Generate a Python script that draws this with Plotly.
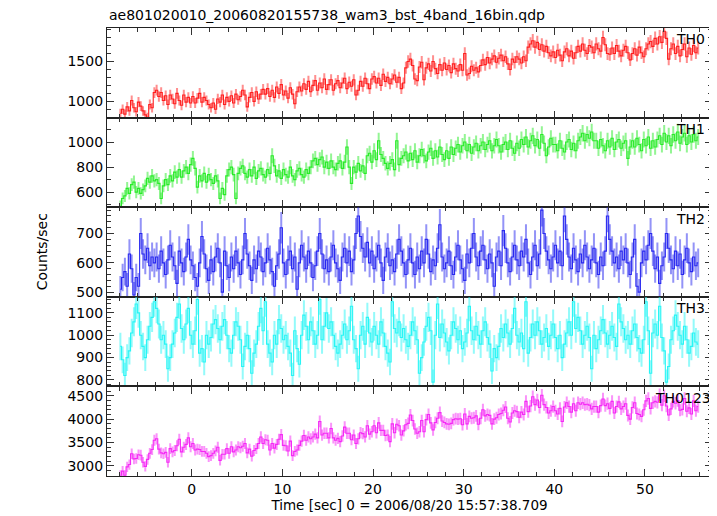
import numpy as np
import plotly.graph_objects as go
from plotly.subplots import make_subplots

# time bins: 0.25 s (16 x 1/64 s), bin centres
BIN = 0.25
t = np.arange(-7.875, 56.0, BIN)

th0 = [
    850, 900, 840, 930, 880, 1010, 920, 870, 990, 940, 880, 830, 800, 960, 920, 1110,
    1140, 1060, 1110, 1010, 1070, 960, 1080, 1030, 970, 1100, 1010, 950, 1080, 990, 1050, 980,
    1060, 980, 1040, 1100, 990, 1050, 1010, 960, 920, 980, 900, 1030, 990, 1080, 960, 1050,
    1000, 1070, 980, 1090, 1020, 1060, 1140, 1080, 930, 1050, 1110, 1000, 1120, 1030, 1090, 1150,
    1090, 1160, 1060, 1140, 1050, 1180, 1100, 1210, 1080, 1130, 1040, 1170, 1090, 970, 1120, 1180,
    1130, 1220, 1150, 1250, 1120, 1200, 1260, 1140, 1230, 1170, 1280, 1150, 1210, 1270, 1140, 1220,
    1260, 1170, 1230, 1290, 1160, 1240, 1190, 1270, 1080, 1140, 1250, 1190, 1290, 1220, 1160, 1280,
    1310, 1230, 1290, 1200, 1340, 1250, 1300, 1220, 1280, 1330, 1240, 1300, 1160, 1230, 1420, 1500,
    1530, 1450, 1280, 1260, 1430, 1490, 1270, 1420, 1470, 1380, 1500, 1410, 1350, 1460, 1390, 1480,
    1400, 1450, 1360, 1470, 1410, 1380, 1460, 1390, 1600, 1330, 1350, 1440, 1390, 1420, 1370, 1450,
    1520, 1460, 1550, 1480, 1530, 1570, 1490, 1540, 1580, 1510, 1560, 1470, 1400, 1530, 1490, 1560,
    1530, 1480, 1560, 1510, 1680, 1720, 1760, 1680, 1740, 1650, 1710, 1630, 1690, 1610, 1570, 1620,
    1550, 1640, 1580, 1510, 1620, 1660, 1570, 1630, 1540, 1610, 1690, 1630, 1720, 1640, 1600, 1700,
    1680, 1610, 1720, 1660, 1630, 1800, 1710, 1600, 1590, 1670, 1600, 1700, 1630, 1570, 1640, 1690,
    1610, 1520, 1600, 1660, 1580, 1680, 1610, 1560, 1660, 1720, 1750, 1690, 1790, 1720, 1810, 1740,
    1880, 1790, 1530, 1660, 1720, 1600, 1690, 1570, 1650, 1720, 1560, 1670, 1590, 1700, 1610, 1670,
]

th1 = [
    490, 550, 570, 630, 590, 660, 680, 600, 630, 590, 620, 650, 710, 680, 730, 690,
    700, 670, 550, 650, 700, 660, 730, 690, 760, 720, 780, 720, 770, 800, 750, 820,
    870, 790, 640, 730, 690, 750, 680, 740, 700, 670, 730, 690, 550, 630, 580, 730,
    780, 800, 740, 550, 750, 790, 810, 750, 720, 780, 730, 800, 710, 770, 790, 740,
    720, 780, 750, 890, 810, 730, 770, 710, 780, 740, 720, 800, 730, 700, 770, 790,
    740, 720, 780, 750, 800, 850, 870, 820, 860, 880, 800, 840, 790, 850, 800, 780,
    830, 850, 790, 840, 960, 800, 670, 800, 760, 830, 770, 810, 750, 890, 910, 840,
    930, 860, 1010, 900, 870, 830, 790, 830, 860, 780, 1010, 820, 870, 890, 920, 850,
    910, 860, 930, 840, 890, 940, 890, 850, 920, 950, 870, 930, 880, 960, 900, 860,
    930, 870, 960, 900, 950, 980, 920, 970, 1000, 930, 980, 910, 960, 990, 930, 970,
    1000, 940, 980, 1010, 930, 970, 1020, 970, 920, 980, 1000, 940, 1010, 950, 910, 990,
    950, 1020, 980, 1040, 960, 1010, 1050, 970, 1020, 950, 1060, 990, 890, 960, 1030, 980,
    980, 930, 1010, 950, 920, 1000, 1020, 940, 990, 930, 1010, 1040, 1070, 1010, 1060, 1030,
    1080, 1010, 1010, 950, 1020, 970, 930, 1010, 960, 1030, 940, 1000, 1020, 950, 990, 1010,
    870, 960, 1010, 960, 1030, 980, 930, 1020, 970, 1040, 950, 1010, 960, 1020, 1050, 980,
    1070, 1000, 1050, 970, 1060, 1010, 1080, 990, 1040, 1070, 980, 1050, 1000, 1060, 1010, 1040,
]

th2 = [
    510, 550, 570, 520, 630, 580, 490, 550, 520, 700, 630, 610, 650, 590, 620, 600,
    620, 580, 640, 600, 560, 610, 660, 620, 590, 530, 640, 600, 570, 620, 680, 610,
    590, 550, 520, 600, 690, 630, 580, 540, 610, 570, 620, 650, 600, 500, 640, 590,
    550, 620, 580, 640, 600, 560, 610, 700, 630, 590, 540, 610, 580, 640, 620, 570,
    600, 650, 610, 570, 520, 590, 630, 720, 600, 560, 610, 640, 580, 620, 510, 600,
    660, 620, 580, 640, 600, 550, 590, 640, 700, 630, 580, 610, 570, 620, 660, 600,
    580, 540, 620, 650, 600, 640, 570, 610, 700, 760, 690, 650, 620, 670, 600, 640,
    580, 620, 660, 600, 540, 620, 650, 590, 610, 570, 630, 680, 640, 600, 560, 610,
    650, 600, 560, 620, 580, 640, 600, 680, 630, 570, 610, 590, 650, 730, 620, 580,
    600, 640, 590, 560, 620, 660, 610, 580, 540, 630, 600, 650, 700, 620, 590, 640,
    660, 610, 580, 630, 600, 520, 620, 640, 590, 710, 650, 600, 570, 620, 660, 610,
    590, 640, 620, 680, 600, 560, 620, 660, 590, 630, 780, 700, 640, 610, 580, 620,
    660, 600, 640, 590, 760, 680, 620, 580, 650, 610, 570, 630, 600, 660, 620, 580,
    610, 650, 600, 560, 620, 590, 640, 760, 680, 640, 600, 620, 580, 640, 610, 650,
    600, 560, 620, 680, 520, 500, 600, 640, 610, 660, 700, 640, 580, 620, 530, 590,
    620, 700, 650, 610, 580, 640, 590, 630, 560, 610, 650, 600, 570, 620, 590, 600,
]

th3 = [
    950, 890, 820, 900, 930, 1010, 1060, 1140, 1100, 1000, 950, 900, 980, 1040, 1080, 1150,
    1120, 1050, 980, 1000, 960, 850, 900, 960, 1010, 1080, 1140, 1030, 980, 1050, 1120, 1000,
    960, 1020, 1160, 920, 940, 880, 1000, 960, 990, 1050, 1070, 1030, 980, 1040, 1070, 1000,
    940, 920, 1000, 1060, 1040, 980, 860, 950, 1000, 940, 830, 920, 960, 1040, 1120, 1020,
    1150, 960, 920, 880, 1000, 960, 1070, 1030, 980, 1000, 950, 920, 820, 1020, 940, 870,
    1000, 1090, 1040, 980, 1060, 1020, 960, 1000, 1160, 980, 1040, 1100, 1030, 1060, 1000, 950,
    920, 960, 1000, 1050, 980, 1020, 1130, 980, 940, 850, 1000, 1040, 960, 1080, 1010, 970,
    1040, 1000, 960, 1060, 1010, 950, 920, 880, 1150, 1030, 1010, 1060, 990, 1030, 980, 950,
    1000, 1060, 1020, 980, 830, 900, 970, 1040, 1080, 1020, 790, 1000, 1140, 990, 1050, 1010,
    970, 930, 1000, 1060, 1030, 980, 1020, 940, 970, 1010, 1130, 1020, 980, 1040, 1000, 960,
    1020, 1060, 990, 960, 840, 940, 900, 950, 1030, 990, 1050, 1010, 960, 1030, 1120, 1000,
    970, 1010, 940, 1150, 920, 990, 1050, 1000, 1060, 1020, 960, 990, 1030, 950, 1000, 1050,
    990, 940, 1000, 900, 960, 1010, 1060, 1000, 1150, 1030, 1080, 1020, 960, 1000, 1040, 990,
    850, 1000, 940, 980, 1020, 1070, 1010, 960, 1000, 1040, 990, 950, 1140, 1060, 1030, 980,
    1000, 960, 1020, 1050, 990, 940, 920, 980, 1150, 1020, 830, 1010, 1050, 1000, 1130, 990,
    930, 790, 860, 980, 1020, 1090, 1040, 1000, 960, 1040, 980, 920, 950, 1010, 970, 960,
]

# summed band
th0123 = list(np.array(th0) + np.array(th1) + np.array(th2) + np.array(th3))

names = ["TH0", "TH1", "TH2", "TH3", "TH0123"]
series = [th0, th1, th2, th3, th0123]
colors = ["255,30,30", "40,235,40", "40,40,240", "40,245,245", "245,40,245"]
yranges = [[796, 1920], [480, 1195], [484, 790], [771, 1172], [2785, 4700]]
ydticks = [500, 200, 100, 100, 500]
yminor = [100, 100, 20, 20, 100]
label_x = [0.9377, 0.9377, 0.9377, 0.9377, 0.903]

FONT = "DejaVu Sans, Verdana, sans-serif"

fig = make_subplots(rows=5, cols=1, shared_xaxes=True, vertical_spacing=0)

for k, (nm, y, c) in enumerate(zip(names, series, colors)):
    yv = np.array(y, dtype=float)
    err = 2.0 * np.sqrt(yv)  # Poisson error for 0.25 s bins
    # light vertical error bars
    fig.add_trace(
        go.Scatter(
            x=t, y=yv, mode="markers",
            marker=dict(size=1, color="rgba(0,0,0,0)"),
            error_y=dict(type="data", array=err, width=0, thickness=2,
                         color=f"rgba({c},0.5)"),
            showlegend=False, hoverinfo="skip",
        ),
        row=k + 1, col=1,
    )
    # dark step line through the bins
    fig.add_trace(
        go.Scatter(
            x=t, y=yv, mode="lines", line_shape="hvh",
            line=dict(color=f"rgb({c})", width=1.1),
            showlegend=False, hoverinfo="skip",
        ),
        row=k + 1, col=1,
    )
    fig.update_yaxes(
        range=yranges[k], dtick=ydticks[k], tick0=0,
        ticks="inside", ticklen=7, tickwidth=1, tickcolor="#333",
        minor=dict(ticks="inside", ticklen=4, dtick=yminor[k], tick0=0, tickcolor="#333"),
        showline=True, linecolor="#222", linewidth=1.2, mirror="allticks",
        showgrid=False, zeroline=False,
        tickfont=dict(family=FONT, size=14, color="black"),
        row=k + 1, col=1,
    )
    fig.add_annotation(
        text=nm, xref=f"x{k + 1 if k else ''} domain", yref=f"y{k + 1 if k else ''} domain",
        x=label_x[k], y=0.985, xanchor="left", yanchor="top", showarrow=False,
        font=dict(family=FONT, size=14, color="black"),
    )

fig.update_xaxes(
    range=[-9.35, 57.4], dtick=10, tick0=0,
    ticks="inside", ticklen=7, tickwidth=1, tickcolor="#333",
    minor=dict(ticks="inside", ticklen=4, dtick=2, tick0=0, tickcolor="#333"),
    showline=True, linecolor="#222", linewidth=1.2, mirror="allticks",
    showgrid=False, zeroline=False,
    tickfont=dict(family=FONT, size=14, color="black"),
)
fig.update_xaxes(
    title=dict(text="Time [sec] 0 = 2006/08/20 15:57:38.709", standoff=2,
               font=dict(family=FONT, size=13.5, color="black")),
    row=5, col=1,
)

fig.add_annotation(
    text="Counts/sec", xref="paper", yref="paper", x=-0.107, y=0.5,
    textangle=-90, showarrow=False, xanchor="center", yanchor="middle",
    font=dict(family=FONT, size=14, color="black"),
)
fig.add_annotation(
    text="ae801020010_20060820155738_wam3_bst_4band_16bin.qdp",
    xref="paper", yref="paper", x=0, y=1.0, yshift=3, xanchor="left", yanchor="bottom",
    showarrow=False, font=dict(family=FONT, size=14, color="black"),
)

# page body has an 8 px margin: figure is sized/offset to land on the reference pixels
fig.update_layout(
    width=709, height=508,
    margin=dict(l=99, r=5, t=20, b=40),
    paper_bgcolor="white", plot_bgcolor="white",
    font=dict(family=FONT, size=14, color="black"),
)

fig.write_html("out.html")
